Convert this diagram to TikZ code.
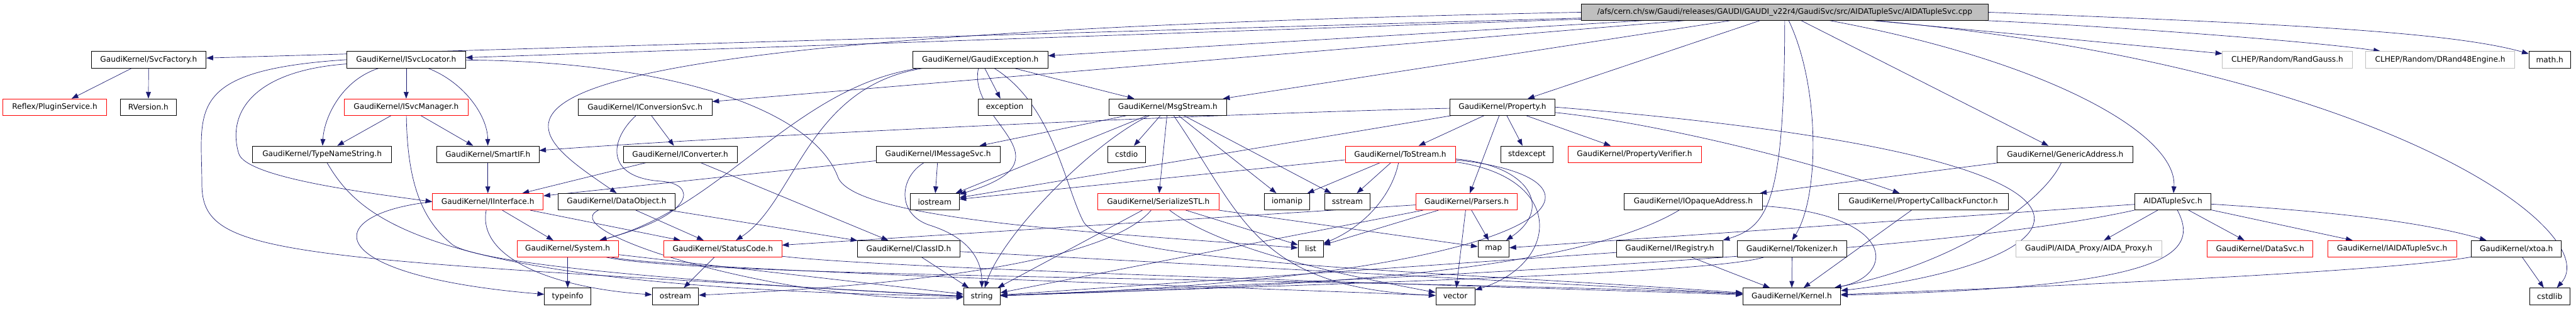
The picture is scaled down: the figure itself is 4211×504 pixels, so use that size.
\documentclass[tikz,border=0pt]{standalone}
\usepackage{fontspec}
\setmainfont{DejaVu Sans}
\usetikzlibrary{arrows.meta,backgrounds}

\definecolor{edgeblue}{HTML}{191970}
\definecolor{missgray}{HTML}{BFBFBF}

\begin{document}
\begin{tikzpicture}[
    x=1pt, y=-1pt,
    font=\fontsize{12.5}{15}\selectfont,
    hdrbox/.style={draw=black, line width=0.8pt, fill=white, inner sep=0pt, minimum height=27pt},
    truncbox/.style={hdrbox, draw=red},
    extbox/.style={hdrbox, draw=missgray},
    rootbox/.style={hdrbox, fill=missgray, minimum height=26pt},
    dep/.style={-{Triangle[length=11pt,width=8pt]}, line width=0.7pt, color=edgeblue}
]
\useasboundingbox (0,0) rectangle (4211,504);

\node[rootbox, minimum width=665pt] (root) at (2917.5,20) {/afs/cern.ch/sw/Gaudi/releases/GAUDI/GAUDI\_v22r4/GaudiSvc/src/AIDATupleSvc/AIDATupleSvc.cpp};

\node[hdrbox, minimum width=188pt] (svcf) at (243,97.5) {GaudiKernel/SvcFactory.h};
\node[hdrbox, minimum width=194pt] (isl) at (664,97.5) {GaudiKernel/ISvcLocator.h};
\node[hdrbox, minimum width=221pt] (gexc) at (1602.5,97.5) {GaudiKernel/GaudiException.h};
\node[extbox, minimum width=212pt] (clgauss) at (3739,97.5) {CLHEP/Random/RandGauss.h};
\node[extbox, minimum width=244pt] (cldrand) at (3989,97.5) {CLHEP/Random/DRand48Engine.h};
\node[hdrbox, minimum width=68pt] (mathh) at (4168,97.5) {math.h};

\node[truncbox, minimum width=169pt] (plugin) at (89.5,175) {Reflex/PluginService.h};
\node[hdrbox, minimum width=91pt] (rver) at (242.5,175) {RVersion.h};
\node[truncbox, minimum width=202pt] (isvcm) at (664,175) {GaudiKernel/ISvcManager.h};
\node[hdrbox, minimum width=219pt] (iconvsvc) at (1054.5,175) {GaudiKernel/IConversionSvc.h};
\node[hdrbox, minimum width=87pt] (exc) at (1642.5,175) {exception};
\node[hdrbox, minimum width=192pt] (msgs) at (1909,175) {GaudiKernel/MsgStream.h};
\node[hdrbox, minimum width=172pt] (prop) at (2456,175) {GaudiKernel/Property.h};

\node[hdrbox, minimum width=227pt] (tns) at (526.5,252) {GaudiKernel/TypeNameString.h};
\node[hdrbox, minimum width=167pt] (smartif) at (797.5,252) {GaudiKernel/SmartIF.h};
\node[hdrbox, minimum width=186pt] (iconv) at (1112,252) {GaudiKernel/IConverter.h};
\node[hdrbox, minimum width=203pt] (imsg) at (1533.5,252) {GaudiKernel/IMessageSvc.h};
\node[hdrbox, minimum width=61pt] (cstdio) at (1841.5,252) {cstdio};
\node[truncbox, minimum width=180pt] (tostr) at (2289,252) {GaudiKernel/ToStream.h};
\node[hdrbox, minimum width=86pt] (stdexc) at (2496,252) {stdexcept};
\node[truncbox, minimum width=218pt] (pverif) at (2672,252) {GaudiKernel/PropertyVerifier.h};
\node[hdrbox, minimum width=222pt] (genaddr) at (3376,252) {GaudiKernel/GenericAddress.h};

\node[truncbox, minimum width=181pt] (iintf) at (797.5,329.5) {GaudiKernel/IInterface.h};
\node[hdrbox, minimum width=192pt] (dobj) at (1008,329.5) {GaudiKernel/DataObject.h};
\node[hdrbox, minimum width=80pt] (iostr) at (1528,329.5) {iostream};
\node[truncbox, minimum width=199pt] (serstl) at (1893.5,329.5) {GaudiKernel/SerializeSTL.h};
\node[hdrbox, minimum width=74pt] (iomanip) at (2104,329.5) {iomanip};
\node[hdrbox, minimum width=75pt] (sstr) at (2202.5,329.5) {sstream};
\node[truncbox, minimum width=165pt] (parsers) at (2397.5,329.5) {GaudiKernel/Parsers.h};
\node[hdrbox, minimum width=226pt] (iopaque) at (2768,329.5) {GaudiKernel/IOpaqueAddress.h};
\node[hdrbox, minimum width=278pt] (pcbf) at (3144,329.5) {GaudiKernel/PropertyCallbackFunctor.h};
\node[hdrbox, minimum width=124pt] (aidah) at (3552,329.5) {AIDATupleSvc.h};

\node[truncbox, minimum width=166pt] (system) at (928,406.5) {GaudiKernel/System.h};
\node[truncbox, minimum width=193pt] (statc) at (1181.5,406.5) {GaudiKernel/StatusCode.h};
\node[hdrbox, minimum width=167pt] (classid) at (1485.5,406.5) {GaudiKernel/ClassID.h};
\node[hdrbox, minimum width=41pt] (list) at (2142.5,406.5) {list};
\node[hdrbox, minimum width=51pt] (map) at (2441.5,406.5) {map};
\node[hdrbox, minimum width=173pt] (ireg) at (2729.5,406.5) {GaudiKernel/IRegistry.h};
\node[hdrbox, minimum width=179pt] (tok) at (2929.5,406.5) {GaudiKernel/Tokenizer.h};
\node[extbox, minimum width=239pt] (proxy) at (3414.5,406.5) {GaudiPI/AIDA\_Proxy/AIDA\_Proxy.h};
\node[truncbox, minimum width=173pt] (datasvc) at (3694.5,406.5) {GaudiKernel/DataSvc.h};
\node[truncbox, minimum width=211pt] (iaida) at (3910.5,406.5) {GaudiKernel/IAIDATupleSvc.h};
\node[hdrbox, minimum width=147pt] (xtoa) at (4113.5,406.5) {GaudiKernel/xtoa.h};

\node[hdrbox, minimum width=76pt] (typeinfo) at (928,484) {typeinfo};
\node[hdrbox, minimum width=76pt] (ostr) at (1104,484) {ostream};
\node[hdrbox, minimum width=60pt] (string) at (1605,484) {string};
\node[hdrbox, minimum width=64pt] (vector) at (2379,484) {vector};
\node[hdrbox, minimum width=160pt] (kernel) at (2929,484) {GaudiKernel/Kernel.h};
\node[hdrbox, minimum width=66pt] (cstdlib) at (4168,484) {cstdlib};

\begin{pgfonlayer}{background}
\draw[dep] (root) -- (svcf);
\draw[dep] (root) -- (isl);
\draw[dep] (root) -- (gexc);
\draw[dep] (root) -- (iconvsvc);
\draw[dep] (root.west) .. controls (600,60) and (840,200) .. (dobj.north);
\draw[dep] (root) -- (msgs);
\draw[dep] (root) -- (prop);
\draw[dep] (root) -- (genaddr);
\draw[dep] (root.south) .. controls (2917,330) and (2890,370) .. (ireg.north east);
\draw[dep] (root) .. controls (2975,140) and (2975,320) .. (tok.north);
\draw[dep] (root) .. controls (3350,100) and (3560,220) .. (aidah);
\draw[dep] (root) -- (clgauss);
\draw[dep] (root) .. controls (3400,40) and (3760,65) .. (cldrand);
\draw[dep] (root.east) .. controls (3700,38) and (4000,50) .. (mathh);
\draw[dep] (root) .. controls (3900,110) and (4260,380) .. (cstdlib.50);

\draw[dep] (svcf) -- (plugin);
\draw[dep] (svcf) -- (rver);

\draw[dep] (isl) -- (isvcm);
\draw[dep] (isl) .. controls (560,130) and (530,190) .. (tns);
\draw[dep] (isl) .. controls (760,135) and (797,190) .. (smartif);
\draw[dep] (isl) .. controls (420,115) and (370,180) .. (390,250) .. controls (400,290) and (600,315) .. (iintf.west);
\draw[dep] (isl.west) .. controls (300,115) and (330,180) .. (330,300) .. controls (330,420) and (450,420) .. (string.west);
\draw[dep] (isl) .. controls (1100,100) and (1330,180) .. (1370,290) .. controls (1400,360) and (1800,380) .. (list);

\draw[dep] (isvcm) -- (tns);
\draw[dep] (isvcm) -- (smartif);
\draw[dep] (isvcm) .. controls (666,300) and (690,360) .. (740,400) .. controls (800,440) and (1300,470) .. (string.west);
\draw[dep] (tns) .. controls (590,360) and (700,470) .. (string.west);
\draw[dep] (smartif) -- (iintf);

\draw[dep] (iconvsvc) -- (iconv);
\draw[dep] (iconvsvc) .. controls (995,230) and (990,290) .. (1080,296) .. controls (1140,300) and (1140,350) .. (system);
\draw[dep] (iconv) -- (iintf);
\draw[dep] (iconv) -- (classid);

\draw[dep] (imsg) -- (iintf);
\draw[dep] (imsg) -- (iostr);
\draw[dep] (imsg) .. controls (1470,290) and (1465,350) .. (1520,368) .. controls (1590,390) and (1605,430) .. (string);

\draw[dep] (gexc) -- (exc);
\draw[dep] (gexc) .. controls (1580,200) and (1760,260) .. (iostr);
\draw[dep] (gexc) -- (msgs);
\draw[dep] (gexc) .. controls (1320,140) and (1300,330) .. (statc);
\draw[dep] (gexc) .. controls (1300,140) and (1180,340) .. (system);
\draw[dep] (gexc) .. controls (1720,170) and (1740,300) .. (1770,360) .. controls (1800,430) and (2300,440) .. (kernel);

\draw[dep] (msgs) -- (imsg);
\draw[dep] (msgs) .. controls (1790,230) and (1640,380) .. (string);
\draw[dep] (msgs) -- (cstdio);
\draw[dep] (msgs) -- (serstl);
\draw[dep] (msgs) -- (iomanip);
\draw[dep] (msgs) -- (sstr);
\draw[dep] (msgs) -- (iostr);
\draw[dep] (msgs) .. controls (2030,350) and (2050,470) .. (vector);

\draw[dep] (prop) -- (stdexc);
\draw[dep] (prop) -- (pverif);
\draw[dep] (prop) -- (tostr);
\draw[dep] (prop) -- (parsers);
\draw[dep] (prop) .. controls (2700,200) and (2950,260) .. (pcbf);
\draw[dep] (prop) .. controls (2000,185) and (1200,222) .. (smartif);
\draw[dep] (prop) -- (iostr);
\draw[dep] (prop.east) .. controls (3600,260) and (3400,430) .. (kernel);

\draw[dep] (tostr) -- (iomanip);
\draw[dep] (tostr) -- (sstr);
\draw[dep] (tostr) .. controls (2275,320) and (2230,370) .. (list);
\draw[dep] (tostr) -- (iostr);
\draw[dep] (tostr) .. controls (2500,270) and (2540,340) .. (map);
\draw[dep] (tostr) .. controls (2560,290) and (2550,430) .. (vector);
\draw[dep] (tostr) .. controls (2660,290) and (2600,450) .. (string);

\draw[dep] (parsers) -- (list);
\draw[dep] (parsers) -- (vector);
\draw[dep] (parsers) -- (map);
\draw[dep] (parsers) -- (string);
\draw[dep] (parsers) -- (statc);

\draw[dep] (serstl) .. controls (1800,440) and (1400,470) .. (ostr);
\draw[dep] (serstl) .. controls (2000,410) and (2200,450) .. (vector);
\draw[dep] (serstl) -- (list);
\draw[dep] (serstl) -- (map);
\draw[dep] (serstl) -- (string);

\draw[dep] (iopaque) .. controls (3100,350) and (3100,450) .. (kernel);
\draw[dep] (iopaque) .. controls (2550,460) and (2000,470) .. (string);
\draw[dep] (genaddr) -- (iopaque);
\draw[dep] (genaddr) .. controls (3340,330) and (3200,430) .. (kernel);
\draw[dep] (pcbf) -- (kernel);
\draw[dep] (ireg) -- (kernel);
\draw[dep] (ireg) -- (string);
\draw[dep] (tok) -- (kernel);
\draw[dep] (tok) .. controls (2800,445) and (2300,460) .. (string);

\draw[dep] (aidah) -- (proxy);
\draw[dep] (aidah) -- (datasvc);
\draw[dep] (aidah) -- (iaida);
\draw[dep] (aidah) .. controls (3800,345) and (3950,360) .. (xtoa);
\draw[dep] (aidah) -- (map);
\draw[dep] (aidah) .. controls (3300,385) and (2900,430) .. (string);
\draw[dep] (aidah) .. controls (3600,420) and (3530,470) .. (kernel);
\draw[dep] (xtoa) -- (cstdlib);
\draw[dep] (xtoa) .. controls (3900,445) and (3300,470) .. (kernel);

\draw[dep] (dobj) -- (statc);
\draw[dep] (dobj) -- (classid);
\draw[dep] (dobj) .. controls (900,380) and (1300,500) .. (string);

\draw[dep] (iintf) -- (system);
\draw[dep] (iintf) -- (statc);
\draw[dep] (iintf.west) .. controls (520,350) and (520,450) .. (typeinfo);
\draw[dep] (iintf) .. controls (780,420) and (900,470) .. (ostr);

\draw[dep] (system) -- (typeinfo);
\draw[dep] (system) -- (string);
\draw[dep] (system) .. controls (1100,440) and (1900,465) .. (vector);
\draw[dep] (system) .. controls (1150,455) and (2300,455) .. (kernel);

\draw[dep] (statc) -- (ostr);
\draw[dep] (statc) .. controls (1450,440) and (2500,470) .. (kernel);
\draw[dep] (classid) -- (kernel);
\draw[dep] (classid) -- (string);
\end{pgfonlayer}
\end{tikzpicture}
\end{document}
